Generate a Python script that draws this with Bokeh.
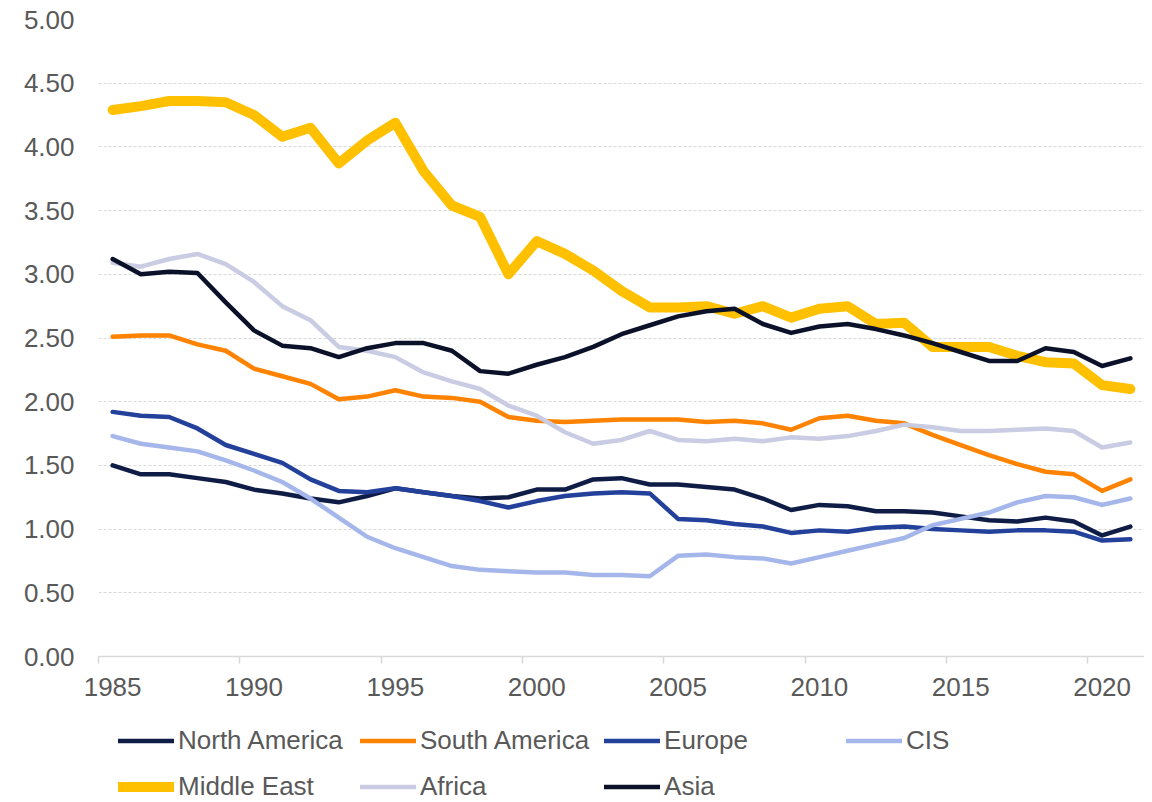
from bokeh.plotting import figure
from bokeh.layouts import column
from bokeh.models import Range1d, FixedTicker, Legend, LegendItem, NumeralTickFormatter, ColumnDataSource
from bokeh.embed import file_html
from bokeh.resources import INLINE

years = list(range(1985, 2022))

north_america = [1.50, 1.43, 1.43, 1.40, 1.37, 1.31, 1.28, 1.24, 1.21, 1.26,
                 1.32, 1.29, 1.26, 1.24, 1.25, 1.31, 1.31, 1.39, 1.40, 1.35,
                 1.35, 1.33, 1.31, 1.24, 1.15, 1.19, 1.18, 1.14, 1.14, 1.13,
                 1.10, 1.07, 1.06, 1.09, 1.06, 0.95, 1.02]
south_america = [2.51, 2.52, 2.52, 2.45, 2.40, 2.26, 2.20, 2.14, 2.02, 2.04,
                 2.09, 2.04, 2.03, 2.00, 1.88, 1.85, 1.84, 1.85, 1.86, 1.86,
                 1.86, 1.84, 1.85, 1.83, 1.78, 1.87, 1.89, 1.85, 1.83, 1.74,
                 1.66, 1.58, 1.51, 1.45, 1.43, 1.30, 1.39]
europe = [1.92, 1.89, 1.88, 1.79, 1.66, 1.59, 1.52, 1.39, 1.30, 1.29,
          1.32, 1.29, 1.26, 1.22, 1.17, 1.22, 1.26, 1.28, 1.29, 1.28,
          1.08, 1.07, 1.04, 1.02, 0.97, 0.99, 0.98, 1.01, 1.02, 1.00,
          0.99, 0.98, 0.99, 0.99, 0.98, 0.91, 0.92]
cis = [1.73, 1.67, 1.64, 1.61, 1.54, 1.46, 1.37, 1.24, 1.09, 0.94,
       0.85, 0.78, 0.71, 0.68, 0.67, 0.66, 0.66, 0.64, 0.64, 0.63,
       0.79, 0.80, 0.78, 0.77, 0.73, 0.78, 0.83, 0.88, 0.93, 1.03,
       1.08, 1.13, 1.21, 1.26, 1.25, 1.19, 1.24]
middle_east = [4.29, 4.32, 4.36, 4.36, 4.35, 4.25, 4.08, 4.15, 3.87, 4.05,
               4.19, 3.81, 3.54, 3.45, 3.00, 3.26, 3.16, 3.03, 2.87, 2.74,
               2.74, 2.75, 2.69, 2.75, 2.66, 2.73, 2.75, 2.61, 2.62, 2.43,
               2.43, 2.43, 2.36, 2.31, 2.30, 2.13, 2.10]
africa = [3.09, 3.06, 3.12, 3.16, 3.08, 2.94, 2.75, 2.64, 2.43, 2.40,
          2.35, 2.23, 2.16, 2.10, 1.97, 1.89, 1.76, 1.67, 1.70, 1.77,
          1.70, 1.69, 1.71, 1.69, 1.72, 1.71, 1.73, 1.77, 1.82, 1.80,
          1.77, 1.77, 1.78, 1.79, 1.77, 1.64, 1.68]
asia = [3.12, 3.00, 3.02, 3.01, 2.78, 2.56, 2.44, 2.42, 2.35, 2.42,
        2.46, 2.46, 2.40, 2.24, 2.22, 2.29, 2.35, 2.43, 2.53, 2.60,
        2.67, 2.71, 2.73, 2.61, 2.54, 2.59, 2.61, 2.57, 2.52, 2.46,
        2.39, 2.32, 2.32, 2.42, 2.39, 2.28, 2.34]

series_names = ["North America", "South America", "Europe", "CIS",
                "Middle East", "Africa", "Asia"]
series_values = [north_america, south_america, europe, cis,
                 middle_east, africa, asia]
series_colors = ["#0E1C46", "#FF8300", "#23409A", "#A5B6EB",
                 "#FFC000", "#C9CCE2", "#0A1129"]
series_widths = [4.5, 4.5, 4.5, 4.5, 10, 4.5, 4.5]

x_labels = [1985, 1990, 1995, 2000, 2005, 2010, 2015, 2020]
y_ticks = [0, 0.5, 1.0, 1.5, 2.0, 2.5, 3.0, 3.5, 4.0, 4.5, 5.0]

FONT = "Liberation Sans"
TXT = "#595959"
GRID = "#D9D9D9"

p = figure(width=1144, height=702, output_backend="svg", toolbar_location=None,
           x_range=Range1d(years[0] - 0.5, years[-1] + 0.5),
           y_range=Range1d(0, 5),
           min_border_left=98, min_border_right=0, min_border_top=19,
           min_border_bottom=46)
p.outline_line_color = None
p.background_fill_color = "white"
p.border_fill_color = "white"

src = ColumnDataSource(dict(x=years, **{f"s{i}": v for i, v in enumerate(series_values)}))
for i, (name, col, w) in enumerate(zip(series_names, series_colors, series_widths)):
    p.line("x", f"s{i}", source=src, line_color=col, line_width=w,
           line_cap="round", line_join="round")

# x axis
xa = p.xaxis[0]
xa.ticker = FixedTicker(ticks=x_labels,
                        minor_ticks=[t - 0.5 for t in x_labels])
xa.major_tick_line_color = None
xa.major_tick_in = 0
xa.major_tick_out = 0
xa.minor_tick_line_color = GRID
xa.minor_tick_line_width = 1.5
xa.minor_tick_in = 0
xa.minor_tick_out = 7
xa.axis_line_color = GRID
xa.axis_line_width = 1.5
xa.major_label_text_font = FONT
xa.major_label_text_font_size = "26px"
xa.major_label_text_color = TXT
xa.major_label_standoff = 14

ya = p.yaxis[0]
ya.ticker = FixedTicker(ticks=y_ticks)
ya.formatter = NumeralTickFormatter(format="0.00")
ya.axis_line_color = None
ya.major_tick_line_color = None
ya.minor_tick_line_color = None
ya.major_tick_in = 0
ya.major_tick_out = 0
ya.major_label_text_font = FONT
ya.major_label_text_font_size = "26px"
ya.major_label_text_color = TXT
ya.major_label_standoff = 24

p.xgrid.visible = False
p.ygrid.grid_line_color = GRID
p.ygrid.grid_line_dash = "3 2"
p.ygrid.grid_line_width = 1

# legend in its own strip below the chart (series lines there lie outside its view)
lg = figure(width=1144, height=100, output_backend="svg", toolbar_location=None,
            x_range=Range1d(years[0] - 0.5, years[-1] + 0.5), y_range=Range1d(100, 101),
            x_axis_type=None, y_axis_type=None, min_border=0)
lg.outline_line_color = None
lg.xgrid.visible = False
lg.ygrid.visible = False
items = []
for i, (name, col, w) in enumerate(zip(series_names, series_colors, series_widths)):
    r = lg.line("x", f"s{i}", source=src, line_color=col, line_width=w,
                line_cap="round", line_join="round")
    items.append(LegendItem(label=name, renderers=[r]))

legend = Legend(items=items, orientation="horizontal", ncols=4,
                glyph_width=56, glyph_height=31, label_height=31, label_width=167,
                label_standoff=4, spacing=15, padding=0, margin=0,
                border_line_color=None, background_fill_alpha=0,
                label_text_font=FONT, label_text_font_size="26px",
                label_text_color=TXT, location=(20, 0))
lg.add_layout(legend)

layout = column(p, lg, spacing=0)
open("out.html", "w").write(file_html(layout, INLINE))
